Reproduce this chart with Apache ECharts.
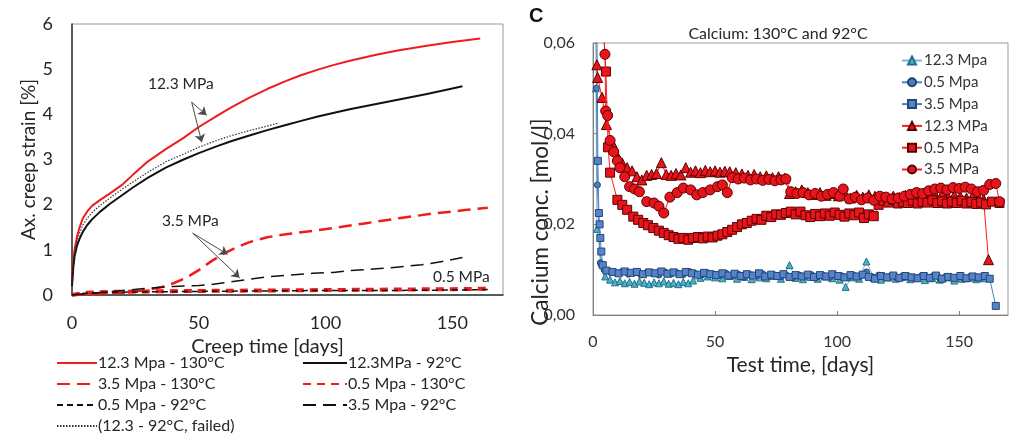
<!DOCTYPE html>
<html>
<head>
<meta charset="utf-8">
<script src="https://cdn.jsdelivr.net/npm/echarts@6/dist/echarts.min.js"></script>
<style>
  html, body { margin: 0; padding: 0; background: #fff; }
  #chart { width: 1016px; height: 435px; }
</style>
</head>
<body>
<div id="chart"></div>
<script>
// ---- Creep strain curves [days, %] ----
const strain123_130 = [[0,0.3],[0.5,0.75],[1,1.0],[2,1.3],[3,1.5],[4.3,1.7],[6,1.85],[8,1.98],[11,2.1],[15,2.25],[20,2.45],[24,2.66],[30,2.96],[37,3.23],[44,3.48],[50,3.72],[57,3.96],[63,4.16],[70,4.37],[77,4.56],[84,4.73],[90,4.86],[97,4.99],[103,5.09],[110,5.19],[120,5.32],[129,5.42],[140,5.52],[150,5.6],[161,5.68]];
const strain123_92 = [[0,0.2],[0.5,0.6],[1,0.85],[2,1.1],[3,1.25],[4.3,1.4],[6,1.55],[8,1.68],[11,1.84],[15,2.02],[20,2.22],[24,2.38],[30,2.6],[37,2.82],[44,3.0],[50,3.14],[57,3.29],[63,3.41],[70,3.53],[77,3.65],[84,3.76],[90,3.85],[97,3.95],[103,4.03],[110,4.12],[120,4.23],[129,4.33],[140,4.45],[150,4.57],[154,4.62]];
const strain35_130 = [[0,0],[10,0.02],[20,0.05],[28,0.1],[35,0.17],[40,0.26],[45,0.38],[50,0.55],[55,0.75],[60,0.92],[65,1.06],[70,1.17],[77,1.28],[85,1.35],[95,1.42],[105,1.5],[116,1.59],[129,1.7],[142,1.8],[155,1.88],[164,1.93]];
const strain05_130 = [[0,0],[5,0.05],[15,0.07],[30,0.08],[50,0.09],[75,0.1],[100,0.11],[125,0.12],[150,0.13],[164,0.14]];
const strain05_92 = [[0,0],[5,0.04],[15,0.06],[30,0.07],[50,0.08],[75,0.09],[100,0.1],[125,0.1],[150,0.11],[164,0.12]];
const strain35_92 = [[0,0],[10,0.05],[20,0.1],[30,0.15],[40,0.19],[50,0.21],[55,0.23],[60,0.27],[65,0.31],[70,0.35],[77,0.4],[85,0.44],[95,0.48],[103,0.5],[110,0.54],[120,0.58],[129,0.62],[138,0.67],[146,0.74],[154,0.83]];
const strain123_92_failed = [[0,0.25],[0.5,0.65],[1,0.9],[2,1.2],[3,1.38],[4.3,1.55],[6,1.7],[8,1.83],[11,1.98],[15,2.15],[20,2.35],[24,2.5],[30,2.72],[37,2.95],[44,3.12],[50,3.27],[57,3.42],[63,3.53],[70,3.64],[77,3.74],[81,3.8]];

// ---- Calcium concentration [days, mol/l] ----
const ca123_92 = [[1.2,0.050],[1.6,0.019],[3.5,0.0115],[5,0.0085],[7,0.0078],[9,0.0072],[11,0.0075],[13,0.0070],[15,0.0073],[17,0.0069],[19,0.0074],[21,0.0071],[23,0.0068],[25,0.0072],[27,0.0070],[29,0.0074],[31,0.0069],[33,0.0071],[35,0.0068],[37,0.0073],[39,0.0070],[41,0.0076],[44,0.0082],[47,0.0085],[50,0.0083],[53,0.0081],[56,0.0086],[59,0.0080],[62,0.0084],[65,0.0079],[68,0.0083],[71,0.0081],[74,0.0086],[77,0.0080],[80.5,0.0110],[83,0.0082],[86,0.0079],[89,0.0084],[92,0.0080],[95,0.0085],[98,0.0081],[101,0.0078],[103.5,0.0062],[106,0.0083],[109,0.0080],[112,0.0118],[115,0.0082],[118,0.0078],[121,0.0083],[124,0.0080],[127,0.0084],[130,0.0079],[133,0.0082],[136,0.0077],[139,0.0081],[142,0.0078],[145,0.0083],[148,0.0076],[151,0.0080],[154,0.0082],[157,0.0079],[160,0.0081]];
const ca05_92 = [[1,0.075],[1.4,0.050],[1.8,0.0287],[3,0.0115],[4.5,0.0100],[7,0.0095],[9.5,0.0092],[12,0.0096],[14.5,0.0090],[17,0.0093],[19.5,0.0089],[22,0.0094],[24.5,0.0091],[27,0.0088],[29.5,0.0095],[32,0.0090],[34.5,0.0093],[37,0.0089],[39.5,0.0096],[42,0.0091],[44.5,0.0088],[47,0.0093],[49.5,0.0090],[52,0.0087],[54.5,0.0092],[57,0.0086],[59.5,0.0090],[62,0.0084],[64.5,0.0089],[67,0.0086],[69.5,0.0091],[72,0.0085],[74.5,0.0088],[77,0.0084],[79.5,0.0087],[82,0.0083],[84.5,0.0088],[87,0.0085],[89.5,0.0089],[92,0.0084],[94.5,0.0087],[97,0.0083],[99.5,0.0088],[102,0.0086],[104.5,0.0082],[107,0.0087],[109.5,0.0085],[112,0.0095],[114.5,0.0084],[117,0.0088],[119.5,0.0083],[122,0.0086],[124.5,0.0082],[127,0.0087],[129.5,0.0084],[132,0.0081],[134.5,0.0086],[137,0.0083],[139.5,0.0087],[142,0.0082],[144.5,0.0085],[147,0.0081],[149.5,0.0084],[152,0.0080],[154.5,0.0085],[157,0.0082],[159.5,0.0084],[162,0.0081]];
const ca35_92 = [[1.5,0.072],[2,0.034],[2.4,0.0225],[2.7,0.0200],[3,0.0170],[3.4,0.0140],[4,0.0110],[5.5,0.0098],[8,0.0095],[10.5,0.0092],[13,0.0096],[15.5,0.0093],[18,0.0095],[20.5,0.0090],[23,0.0094],[25.5,0.0092],[28,0.0096],[30.5,0.0091],[33,0.0094],[35.5,0.0090],[38,0.0095],[40.5,0.0092],[43,0.0089],[45.5,0.0093],[48,0.0090],[50.5,0.0088],[53,0.0092],[55.5,0.0087],[58,0.0091],[60.5,0.0086],[63,0.0090],[65.5,0.0087],[68,0.0092],[70.5,0.0085],[73,0.0089],[75.5,0.0086],[78,0.0090],[80.5,0.0084],[83,0.0088],[85.5,0.0085],[88,0.0089],[90.5,0.0084],[93,0.0088],[95.5,0.0085],[98,0.0090],[100.5,0.0086],[103,0.0083],[105.5,0.0088],[108,0.0085],[110.5,0.0089],[113,0.0084],[115.5,0.0080],[118,0.0086],[120.5,0.0083],[123,0.0087],[125.5,0.0082],[128,0.0086],[130.5,0.0083],[133,0.0081],[135.5,0.0086],[138,0.0082],[140.5,0.0087],[143,0.0080],[145.5,0.0084],[148,0.0082],[150.5,0.0086],[153,0.0081],[155.5,0.0085],[158,0.0083],[160.5,0.0086],[162.5,0.0080],[165,0.0020]];
const ca123_130 = [[1.6,0.0552],[1.9,0.0524],[3.7,0.0480],[5.5,0.0420],[7.8,0.0380],[10,0.0350],[12,0.0335],[14,0.0325],[16,0.0318],[18,0.0305],[20,0.0298],[22,0.0308],[24,0.0310],[26,0.0312],[28,0.0336],[30,0.0310],[32,0.0308],[34,0.0312],[36,0.0309],[38,0.0325],[40,0.0315],[42,0.0318],[44,0.0314],[46,0.0319],[48,0.0316],[50,0.0318],[52,0.0315],[54,0.0317],[56,0.0316],[58.5,0.0314],[61,0.0311],[63.5,0.0308],[66,0.0310],[68.5,0.0305],[71,0.0307],[73.5,0.0303],[76,0.0305],[78.5,0.0302],[80.5,0.0268],[83,0.0272],[85.5,0.0276],[88,0.0270],[90.5,0.0266],[93,0.0270],[95.5,0.0264],[98,0.0268],[100.5,0.0263],[103,0.0270],[105.5,0.0258],[108,0.0264],[110.5,0.0260],[113,0.0265],[115.5,0.0262],[118,0.0258],[120.5,0.0256],[123,0.0262],[125.5,0.0259],[128,0.0264],[130.5,0.0261],[133,0.0266],[135.5,0.0263],[138,0.0268],[140.5,0.0262],[143,0.0266],[145.5,0.0260],[148,0.0264],[150.5,0.0261],[153,0.0258],[155.5,0.0262],[158,0.0257],[160,0.0255],[162,0.0122]];
const ca05_130 = [[3.5,0.070],[5.3,0.0537],[6.2,0.0370],[7,0.0314],[10,0.0254],[12,0.0243],[14,0.0232],[16.5,0.0217],[18.5,0.0210],[20.6,0.0203],[22.5,0.0198],[24.7,0.0192],[27,0.0186],[29,0.0181],[31,0.0176],[33,0.0172],[35,0.0168],[37,0.0170],[39,0.0166],[41,0.0170],[43,0.0172],[45,0.0169],[47,0.0173],[49,0.0171],[51,0.0175],[53,0.0178],[55,0.0183],[57,0.0188],[59,0.0194],[61,0.0200],[63,0.0203],[65,0.0208],[67,0.0212],[69,0.0210],[71,0.0219],[73,0.0216],[75,0.0222],[77,0.0221],[79,0.0225],[81,0.0228],[83,0.0222],[85,0.0228],[87,0.0220],[89,0.0216],[91,0.0223],[93,0.0218],[95,0.0224],[97,0.0219],[99,0.0226],[101,0.0221],[103,0.0217],[105,0.0224],[107,0.0220],[109,0.0226],[111,0.0214],[113,0.0222],[115,0.0218],[117,0.0243],[119,0.0252],[121,0.0248],[123,0.0254],[125,0.0246],[127,0.0250],[129,0.0247],[131,0.0252],[133,0.0246],[135,0.0250],[137,0.0248],[139,0.0253],[141,0.0247],[143,0.0251],[145,0.0246],[147,0.0250],[149,0.0247],[151,0.0252],[153,0.0246],[155,0.0249],[157,0.0245],[159,0.0248],[161,0.0244],[163.5,0.0250],[166.5,0.0247]];
const ca35_130 = [[3.0,0.075],[4.9,0.0575],[5.2,0.0450],[6,0.0440],[7,0.0385],[8.5,0.0360],[10,0.0340],[11,0.0325],[13,0.0305],[15,0.0283],[17,0.0278],[19,0.0272],[22,0.0250],[25,0.0247],[27,0.0240],[29,0.0225],[31.5,0.0260],[34.5,0.0270],[37,0.0280],[40,0.0276],[42.5,0.0265],[45,0.0270],[48,0.0276],[51,0.0283],[53,0.0287],[55,0.0270],[57,0.0303],[59.5,0.0300],[62,0.0302],[64.5,0.0298],[67,0.0300],[69.5,0.0297],[72,0.0299],[74.5,0.0296],[77,0.0298],[79,0.0300],[81,0.0272],[83.5,0.0268],[86,0.0270],[88.5,0.0265],[91,0.0268],[93.5,0.0262],[96,0.0266],[98.5,0.0270],[101,0.0262],[102.5,0.0278],[105,0.0256],[107.5,0.0260],[110,0.0254],[112.5,0.0258],[115,0.0253],[117.5,0.0262],[120,0.0260],[122.5,0.0256],[125,0.0258],[127.5,0.0262],[130,0.0266],[132.5,0.0270],[135,0.0268],[137.5,0.0274],[140,0.0278],[142.5,0.0280],[145,0.0276],[147.5,0.0281],[150,0.0279],[152.5,0.0282],[155,0.0278],[157.5,0.0272],[160,0.0275],[162.5,0.0288],[165,0.0290],[166.5,0.0250]];

// ---- Axis ticks ----
const strainTicks = { min: 0, max: 6, interval: 1 };
const daysTicks = { min: 0, max: 170, interval: 50 };
const caTicks = { min: 0, max: 0.06, interval: 0.02 };

const FONT = 'Lato, "Open Sans", sans-serif';
const INK = '#262626';

const chart = echarts.init(document.getElementById('chart'), null, { renderer: 'canvas' });

function strainLine(name, data, color, width, dash) {
  return {
    name, type: 'line', data, xAxisIndex: 0, yAxisIndex: 0,
    showSymbol: false, symbol: 'none', smooth: false,
    lineStyle: { color, width, type: dash, cap: 'butt', join: 'round' },
    itemStyle: { color },
    z: 3
  };
}

function caLine(name, data, symbol, size, fill, border, lineColor, z) {
  return {
    name, type: 'line', data, xAxisIndex: 1, yAxisIndex: 1,
    symbol, symbolSize: size, showSymbol: true, clip: true,
    lineStyle: { color: lineColor, width: 1 },
    itemStyle: { color: fill, borderColor: border, borderWidth: 1 },
    z
  };
}

// Arrows from the pressure annotations to their curves
const arrowLines = {
  silent: true,
  symbol: ['none', 'arrow'],
  symbolSize: 8,
  label: { show: false },
  emphasis: { disabled: true },
  lineStyle: { color: '#4a4a4a', width: 1, type: 'solid' },
  data: [
    [{ coord: [47.2, 4.27] }, { coord: [53.1, 3.98] }],
    [{ coord: [47.2, 4.27] }, { coord: [51.2, 3.38] }],
    [{ coord: [47.6, 1.37] }, { coord: [61.4, 0.9] }],
    [{ coord: [47.6, 1.37] }, { coord: [66.1, 0.38] }]
  ]
};

const seriesLeft = [
  strainLine('12.3 Mpa - 130°C', strain123_130, '#ee1c1c', 2, 'solid'),
  strainLine('12.3MPa - 92°C', strain123_92, '#111111', 2, 'solid'),
  strainLine('3.5 Mpa - 130°C', strain35_130, '#ee1c1c', 2.5, [13, 7]),
  strainLine('0.5 Mpa - 130°C', strain05_130, '#ee1c1c', 4, [8, 6]),
  strainLine('0.5 Mpa - 92°C', strain05_92, '#111111', 1.5, [6, 4]),
  strainLine('3.5 Mpa - 92°C', strain35_92, '#111111', 1.5, [13, 7]),
  strainLine('(12.3 - 92°C, failed)', strain123_92_failed, '#333333', 1.2, [1.5, 1.5])
];
seriesLeft[1].markLine = arrowLines;

const seriesRight = [
  caLine('12.3 Mpa', ca123_92, 'triangle', 7, '#4bb3c9', '#23708a', '#7fb6d8', 4),
  caLine('0.5 Mpa', ca05_92, 'circle', 6, '#4f7fc0', '#23416e', '#4f81bd', 5),
  caLine('3.5 Mpa', ca35_92, 'rect', 7, '#5585c8', '#26457a', '#4f81bd', 6),
  caLine('12.3 MPa', ca123_130, 'triangle', 10, '#e8141b', '#5a0000', '#ff1a1a', 7),
  caLine('0.5 MPa', ca05_130, 'rect', 9, '#e8141b', '#5a0000', '#ff1a1a', 8),
  caLine('3.5 MPa', ca35_130, 'circle', 10, '#e8141b', '#5a0000', '#ff1a1a', 9)
];

const strainLegendStyle = {
  orient: 'vertical', top: 355, itemHeight: 12, itemGap: 5,
  selectedMode: false, padding: 0,
  itemStyle: { opacity: 0 },
  textStyle: { fontFamily: FONT, fontSize: 16, color: INK, padding: [0, 0, 0, -4] }
};

const option = {
  animation: false,
  backgroundColor: '#ffffff',
  textStyle: { fontFamily: FONT, color: INK },
  title: {
    text: 'Calcium: 130°C and 92°C',
    left: 773, top: 21, textAlign: 'center',
    textStyle: { fontFamily: FONT, fontSize: 16, fontWeight: 'normal', color: INK }
  },
  grid: [
    { left: 72, top: 24, width: 431, height: 271, show: true, borderColor: '#9a9a9a', borderWidth: 1, backgroundColor: 'transparent' },
    { left: 593, top: 43, width: 415, height: 272, show: true, borderColor: '#9a9a9a', borderWidth: 1, backgroundColor: 'transparent' }
  ],
  xAxis: [
    {
      type: 'value', gridIndex: 0, ...daysTicks,
      name: 'Creep time [days]', nameLocation: 'middle', nameGap: 28,
      nameTextStyle: { fontFamily: FONT, fontSize: 20, color: INK, padding: [0, 40, 0, 0] },
      axisLine: { show: true, onZero: false, lineStyle: { color: '#333', width: 1.5 } },
      axisTick: { show: false },
      splitLine: { show: false },
      axisLabel: { fontFamily: FONT, fontSize: 18, color: INK, margin: 19, showMaxLabel: false }
    },
    {
      type: 'value', gridIndex: 1, ...daysTicks,
      name: 'Test time, [days]', nameLocation: 'middle', nameGap: 31,
      nameTextStyle: { fontFamily: FONT, fontSize: 21, color: INK },
      axisLine: { show: true, onZero: false, lineStyle: { color: '#808080', width: 1 } },
      axisTick: { show: true, inside: true, length: 4, lineStyle: { color: '#808080' } },
      splitLine: { show: false },
      axisLabel: { fontFamily: FONT, fontSize: 16, color: '#333', margin: 19, showMaxLabel: false }
    }
  ],
  yAxis: [
    {
      type: 'value', gridIndex: 0, ...strainTicks,
      name: 'Ax. creep strain [%]', nameLocation: 'middle', nameGap: 30, nameRotate: 90,
      nameTextStyle: { fontFamily: FONT, fontSize: 19, color: INK },
      axisLine: { show: true, lineStyle: { color: '#333', width: 1.5 } },
      axisTick: { show: false },
      splitLine: { show: false },
      axisLabel: { fontFamily: FONT, fontSize: 18, color: INK, margin: 19 }
    },
    {
      type: 'value', gridIndex: 1, ...caTicks,
      axisLine: { show: true, lineStyle: { color: '#808080', width: 1 } },
      axisTick: { show: true, inside: true, length: 4, lineStyle: { color: '#808080' } },
      splitLine: { show: false },
      axisLabel: {
        fontFamily: FONT, fontSize: 16, color: '#333', margin: 18,
        formatter: v => v.toFixed(2).replace('.', ',')
      }
    }
  ],
  legend: [
    Object.assign({
      data: ['12.3 Mpa - 130°C', '3.5 Mpa - 130°C', '0.5 Mpa - 92°C', '(12.3 - 92°C, failed)'],
      left: 56, itemWidth: 40
    }, strainLegendStyle),
    Object.assign({
      data: ['12.3MPa - 92°C', '0.5 Mpa - 130°C', '3.5 Mpa - 92°C'],
      left: 302, itemWidth: 44
    }, strainLegendStyle),
    {
      data: ['12.3 Mpa', '0.5 Mpa', '3.5 Mpa', '12.3 MPa', '0.5 MPa', '3.5 MPa'],
      orient: 'vertical', left: 901, top: 53, itemWidth: 20, itemHeight: 10, itemGap: 6.8,
      selectedMode: false, padding: 0,
      textStyle: { fontFamily: FONT, fontSize: 15, color: '#333', padding: [0, 0, 0, -3] }
    }
  ],
  graphic: [
    { type: 'text', left: 148, top: 76, silent: true,
      style: { text: '12.3 MPa', fontFamily: FONT, fontSize: 15.5, fill: INK } },
    { type: 'text', left: 162, top: 213, silent: true,
      style: { text: '3.5 MPa', fontFamily: FONT, fontSize: 15.5, fill: INK } },
    { type: 'text', left: 433, top: 269, silent: true,
      style: { text: '0.5 MPa', fontFamily: FONT, fontSize: 15.5, fill: INK } },
    { type: 'text', left: 529, top: 6, silent: true,
      style: { text: 'C', fontFamily: '"Liberation Sans", Arial, sans-serif', fontSize: 20, fontWeight: 'bold', fill: '#111' } },
    { type: 'text', x: 541, y: 222, rotation: Math.PI / 2, silent: true,
      style: { text: 'Calcium conc. [mol/l]', fontFamily: FONT, fontSize: 22.5, fill: INK, align: 'center', verticalAlign: 'middle' } }
  ],
  series: seriesLeft.concat(seriesRight)
};

chart.setOption(option);
</script>
</body>
</html>
